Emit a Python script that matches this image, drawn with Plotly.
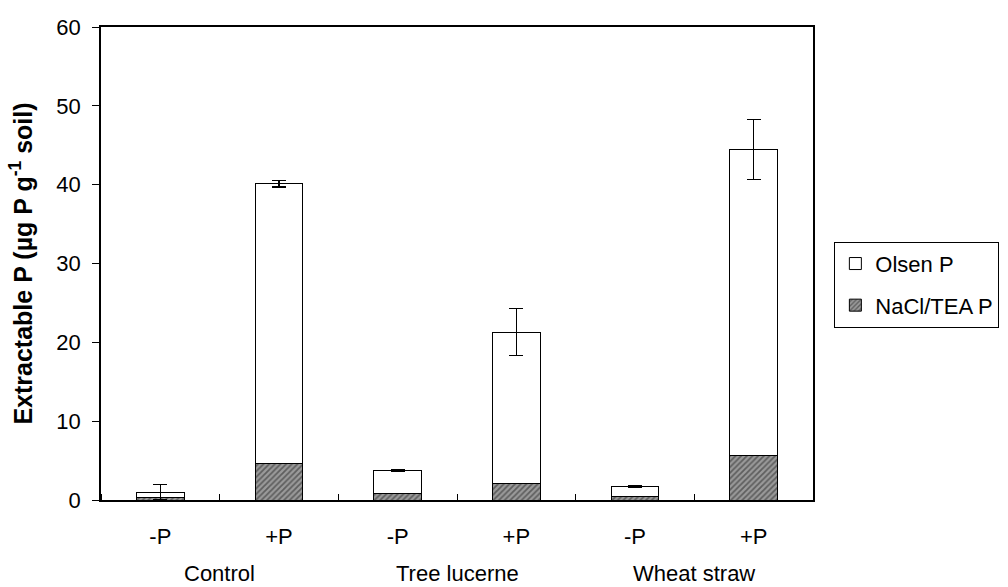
import plotly.graph_objects as go

positions = [0, 1, 2, 3, 4, 5]
treatment_labels = ["-P", "+P", "-P", "+P", "-P", "+P"]
group_labels = ["Control", "Tree lucerne", "Wheat straw"]
group_centers = [0.5, 2.5, 4.5]
nacl_tea_p = [0.3, 4.6, 0.8, 2.1, 0.4, 5.7]
olsen_p = [0.7, 35.5, 2.9, 19.2, 1.3, 38.8]
total_err = [1.0, 0.4, 0.1, 3.0, 0.1, 3.8]

font = "Liberation Sans, Arial, sans-serif"
fs = 22

fig = go.Figure()
fig.add_trace(go.Bar(
    x=positions, y=nacl_tea_p, name="NaCl/TEA P", legendgroup="nacl", legendrank=2,
    marker=dict(color="#8a8a8a", line=dict(color="black", width=1),
                pattern=dict(shape="/", fgcolor="#222222", bgcolor="#9a9a9a", size=4, solidity=0.45)),
))
fig.add_trace(go.Bar(
    x=positions, y=olsen_p, name="Olsen P", legendgroup="olsen", legendrank=1,
    marker=dict(color="white", line=dict(color="black", width=1)),
    error_y=dict(type="data", array=total_err, visible=True, color="black", thickness=1.2, width=7),
))

fig.update_layout(
    barmode="stack", bargap=0.6,
    width=1008, height=587,
    margin=dict(l=101, r=195, t=27, b=87, autoexpand=False),
    plot_bgcolor="white", paper_bgcolor="white",
    font=dict(family=font, size=fs, color="black"),
    showlegend=True,
    legend=dict(x=1.03, y=0.546, xanchor="left", yanchor="top",
                bordercolor="black", borderwidth=1, bgcolor="white",
                font=dict(size=fs, family=font), traceorder="grouped",
                itemwidth=30, tracegroupgap=10),
    xaxis=dict(range=[-0.5, 5.5], tickvals=positions, ticktext=treatment_labels,
               ticks="", showline=True, linecolor="black", linewidth=1.5, mirror=True,
               showgrid=False, zeroline=False, ticklabelstandoff=16,
               tickfont=dict(size=fs),
               minor=dict(tick0=0.5, dtick=1, ticks="inside", ticklen=6, tickcolor="black", showgrid=False)),
    yaxis=dict(range=[0, 60], dtick=10, ticks="outside", ticklen=7, tickcolor="black",
               showline=True, linecolor="black", linewidth=1.5, mirror=True,
               showgrid=False, zeroline=False, tickfont=dict(size=fs), automargin=False,
               ticklabelstandoff=7,
               title=dict(text="<b>Extractable P (µg P g<sup>-1</sup> soil)</b>", font=dict(size=25), standoff=17)),
)

for gx, gl in zip(group_centers, group_labels):
    fig.add_annotation(x=gx, y=-0.155, xref="x", yref="paper", text=gl, showarrow=False,
                       font=dict(size=fs, family=font), yanchor="middle")

fig.write_html("out.html", config={"displayModeBar": False},
               post_script="document.body.style.margin='0';document.body.style.overflow='hidden';")
